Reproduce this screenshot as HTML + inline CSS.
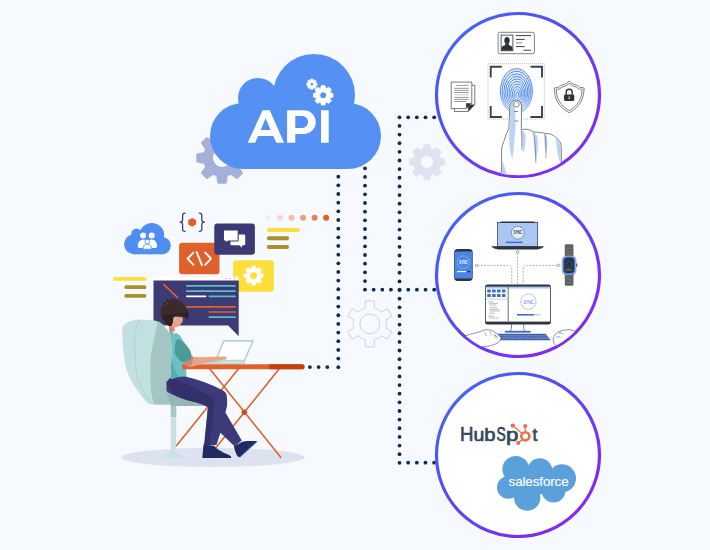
<!DOCTYPE html>
<html><head><meta charset="utf-8"><style>
html,body{margin:0;padding:0;background:#F6FAFE;}
svg{display:block;}
</style></head><body>
<svg width="710" height="550" viewBox="0 0 710 550" font-family="Liberation Sans, sans-serif">
<rect width="710" height="550" fill="#F6FAFE"/>
<g fill="#0E2B50"><circle cx="338.30" cy="176.70" r="1.9"/><circle cx="338.30" cy="185.36" r="1.9"/><circle cx="338.30" cy="194.02" r="1.9"/><circle cx="338.30" cy="202.68" r="1.9"/><circle cx="338.30" cy="211.34" r="1.9"/><circle cx="338.30" cy="220.00" r="1.9"/><circle cx="338.30" cy="228.65" r="1.9"/><circle cx="338.30" cy="237.31" r="1.9"/><circle cx="338.30" cy="245.97" r="1.9"/><circle cx="338.30" cy="254.63" r="1.9"/><circle cx="338.30" cy="263.29" r="1.9"/><circle cx="338.30" cy="271.95" r="1.9"/><circle cx="338.30" cy="280.61" r="1.9"/><circle cx="338.30" cy="289.27" r="1.9"/><circle cx="338.30" cy="297.93" r="1.9"/><circle cx="338.30" cy="306.59" r="1.9"/><circle cx="338.30" cy="315.25" r="1.9"/><circle cx="338.30" cy="323.90" r="1.9"/><circle cx="338.30" cy="332.56" r="1.9"/><circle cx="338.30" cy="341.22" r="1.9"/><circle cx="338.30" cy="349.88" r="1.9"/><circle cx="338.30" cy="358.54" r="1.9"/><circle cx="338.30" cy="367.20" r="1.9"/><circle cx="309.90" cy="367.10" r="1.9"/><circle cx="318.60" cy="367.10" r="1.9"/><circle cx="327.30" cy="367.10" r="1.9"/><circle cx="365.00" cy="168.30" r="1.9"/><circle cx="365.00" cy="176.97" r="1.9"/><circle cx="365.00" cy="185.64" r="1.9"/><circle cx="365.00" cy="194.31" r="1.9"/><circle cx="365.00" cy="202.99" r="1.9"/><circle cx="365.00" cy="211.66" r="1.9"/><circle cx="365.00" cy="220.33" r="1.9"/><circle cx="365.00" cy="229.00" r="1.9"/><circle cx="365.00" cy="237.67" r="1.9"/><circle cx="365.00" cy="246.34" r="1.9"/><circle cx="365.00" cy="255.01" r="1.9"/><circle cx="365.00" cy="263.69" r="1.9"/><circle cx="365.00" cy="272.36" r="1.9"/><circle cx="365.00" cy="281.03" r="1.9"/><circle cx="365.00" cy="289.70" r="1.9"/><circle cx="373.65" cy="289.70" r="1.9"/><circle cx="382.30" cy="289.70" r="1.9"/><circle cx="390.95" cy="289.70" r="1.9"/><circle cx="399.60" cy="289.70" r="1.9"/><circle cx="408.25" cy="289.70" r="1.9"/><circle cx="416.90" cy="289.70" r="1.9"/><circle cx="425.55" cy="289.70" r="1.9"/><circle cx="434.20" cy="289.70" r="1.9"/><circle cx="399.50" cy="117.30" r="1.9"/><circle cx="399.50" cy="125.94" r="1.9"/><circle cx="399.50" cy="134.57" r="1.9"/><circle cx="399.50" cy="143.21" r="1.9"/><circle cx="399.50" cy="151.85" r="1.9"/><circle cx="399.50" cy="160.49" r="1.9"/><circle cx="399.50" cy="169.12" r="1.9"/><circle cx="399.50" cy="177.76" r="1.9"/><circle cx="399.50" cy="186.40" r="1.9"/><circle cx="399.50" cy="195.04" r="1.9"/><circle cx="399.50" cy="203.68" r="1.9"/><circle cx="399.50" cy="212.31" r="1.9"/><circle cx="399.50" cy="220.95" r="1.9"/><circle cx="399.50" cy="229.59" r="1.9"/><circle cx="399.50" cy="238.22" r="1.9"/><circle cx="399.50" cy="246.86" r="1.9"/><circle cx="399.50" cy="255.50" r="1.9"/><circle cx="399.50" cy="264.14" r="1.9"/><circle cx="399.50" cy="272.77" r="1.9"/><circle cx="399.50" cy="281.41" r="1.9"/><circle cx="399.50" cy="290.05" r="1.9"/><circle cx="399.50" cy="298.69" r="1.9"/><circle cx="399.50" cy="307.32" r="1.9"/><circle cx="399.50" cy="315.96" r="1.9"/><circle cx="399.50" cy="324.60" r="1.9"/><circle cx="399.50" cy="333.24" r="1.9"/><circle cx="399.50" cy="341.88" r="1.9"/><circle cx="399.50" cy="350.51" r="1.9"/><circle cx="399.50" cy="359.15" r="1.9"/><circle cx="399.50" cy="367.79" r="1.9"/><circle cx="399.50" cy="376.43" r="1.9"/><circle cx="399.50" cy="385.06" r="1.9"/><circle cx="399.50" cy="393.70" r="1.9"/><circle cx="399.50" cy="402.34" r="1.9"/><circle cx="399.50" cy="410.98" r="1.9"/><circle cx="399.50" cy="419.61" r="1.9"/><circle cx="399.50" cy="428.25" r="1.9"/><circle cx="399.50" cy="436.89" r="1.9"/><circle cx="399.50" cy="445.53" r="1.9"/><circle cx="399.50" cy="454.16" r="1.9"/><circle cx="399.50" cy="462.80" r="1.9"/><circle cx="408.17" cy="117.30" r="1.9"/><circle cx="416.84" cy="117.30" r="1.9"/><circle cx="425.51" cy="117.30" r="1.9"/><circle cx="434.18" cy="117.30" r="1.9"/><circle cx="408.15" cy="462.70" r="1.9"/><circle cx="416.80" cy="462.70" r="1.9"/><circle cx="425.45" cy="462.70" r="1.9"/><circle cx="434.10" cy="462.70" r="1.9"/></g>
<path fill="#A5B0D8" fill-rule="evenodd" stroke="#A5B0D8" stroke-width="2" stroke-linejoin="round" d="M239.31,153.06 L246.74,154.41 L246.74,161.59 L239.31,162.94 L239.11,163.60 L238.88,164.25 L238.63,164.89 L238.35,165.52 L238.05,166.14 L237.73,166.75 L242.03,172.96 L236.96,178.03 L230.75,173.73 L230.14,174.05 L229.52,174.35 L228.89,174.63 L228.25,174.88 L227.60,175.11 L226.94,175.31 L225.59,182.74 L218.41,182.74 L217.06,175.31 L216.40,175.11 L215.75,174.88 L215.11,174.63 L214.48,174.35 L213.86,174.05 L213.25,173.73 L207.04,178.03 L201.97,172.96 L206.27,166.75 L205.95,166.14 L205.65,165.52 L205.37,164.89 L205.12,164.25 L204.89,163.60 L204.69,162.94 L197.26,161.59 L197.26,154.41 L204.69,153.06 L204.89,152.40 L205.12,151.75 L205.37,151.11 L205.65,150.48 L205.95,149.86 L206.27,149.25 L201.97,143.04 L207.04,137.97 L213.25,142.27 L213.86,141.95 L214.48,141.65 L215.11,141.37 L215.75,141.12 L216.40,140.89 L217.06,140.69 L218.41,133.26 L225.59,133.26 L226.94,140.69 L227.60,140.89 L228.25,141.12 L228.89,141.37 L229.52,141.65 L230.14,141.95 L230.75,142.27 L236.96,137.97 L242.03,143.04 L237.73,149.25 L238.05,149.86 L238.35,150.48 L238.63,151.11 L238.88,151.75 L239.11,152.40Z M212.00,158.00 a10.00,10.00 0 1,0 20.00,0 a10.00,10.00 0 1,0 -20.00,0Z"/>
<path fill="#DFE3F1" fill-rule="evenodd" stroke="#DFE3F1" stroke-width="1.6" stroke-linejoin="round" d="M439.76,158.64 L443.97,159.21 L443.97,164.79 L439.76,165.36 L439.60,165.93 L439.41,166.50 L439.20,167.05 L438.96,167.60 L438.69,168.13 L438.40,168.65 L440.97,172.03 L437.03,175.97 L433.65,173.40 L433.13,173.69 L432.60,173.96 L432.05,174.20 L431.50,174.41 L430.93,174.60 L430.36,174.76 L429.79,178.97 L424.21,178.97 L423.64,174.76 L423.07,174.60 L422.50,174.41 L421.95,174.20 L421.40,173.96 L420.87,173.69 L420.35,173.40 L416.97,175.97 L413.03,172.03 L415.60,168.65 L415.31,168.13 L415.04,167.60 L414.80,167.05 L414.59,166.50 L414.40,165.93 L414.24,165.36 L410.03,164.79 L410.03,159.21 L414.24,158.64 L414.40,158.07 L414.59,157.50 L414.80,156.95 L415.04,156.40 L415.31,155.87 L415.60,155.35 L413.03,151.97 L416.97,148.03 L420.35,150.60 L420.87,150.31 L421.40,150.04 L421.95,149.80 L422.50,149.59 L423.07,149.40 L423.64,149.24 L424.21,145.03 L429.79,145.03 L430.36,149.24 L430.93,149.40 L431.50,149.59 L432.05,149.80 L432.60,150.04 L433.13,150.31 L433.65,150.60 L437.03,148.03 L440.97,151.97 L438.40,155.35 L438.69,155.87 L438.96,156.40 L439.20,156.95 L439.41,157.50 L439.60,158.07Z M420.10,162.00 a6.90,6.90 0 1,0 13.80,0 a6.90,6.90 0 1,0 -13.80,0Z"/>
<path fill="none" stroke="#CDD2DE" stroke-width="1" stroke-linejoin="round" d="M365.26,307.93 L365.43,300.91 L374.17,300.91 L374.34,307.93 L375.64,308.36 L376.89,308.89 L378.10,309.52 L379.25,310.25 L380.34,311.08 L381.36,311.98 L387.52,308.62 L391.89,316.19 L385.90,319.85 L386.18,321.18 L386.34,322.54 L386.40,323.90 L386.34,325.26 L386.18,326.62 L385.90,327.95 L391.89,331.61 L387.52,339.18 L381.36,335.82 L380.34,336.72 L379.25,337.55 L378.10,338.28 L376.89,338.91 L375.64,339.44 L374.34,339.87 L374.17,346.89 L365.43,346.89 L365.26,339.87 L363.96,339.44 L362.71,338.91 L361.50,338.28 L360.35,337.55 L359.26,336.72 L358.24,335.82 L352.08,339.18 L347.71,331.61 L353.70,327.95 L353.42,326.62 L353.26,325.26 L353.20,323.90 L353.26,322.54 L353.42,321.18 L353.70,319.85 L347.71,316.19 L352.08,308.62 L358.24,311.98 L359.26,311.08 L360.35,310.25 L361.50,309.52 L362.71,308.89 L363.96,308.36Z M359.90,323.90 a9.90,9.90 0 1,0 19.80,0 a9.90,9.90 0 1,0 -19.80,0Z"/>
<g fill="#5591F2"><circle cx="243" cy="136" r="33"/><circle cx="258" cy="98" r="20"/><circle cx="314" cy="95" r="41"/><circle cx="348" cy="136" r="33"/><rect x="243" y="100" width="105" height="69"/></g>
<path fill="#fff" fill-rule="evenodd" d="M247.7,142.8 L262.6,110.3 H269.8 L284,142.8 H276.3 L273.3,135.9 H258 L255.3,142.8Z M260.7,130.1 H270.6 L265.6,118.2Z M287.1,142.8 V110.3 H303.8 A11.9,11.85 0 0 1 303.8,134 H295.3 V142.8Z M295.3,116.1 H302.3 A5.8,5.9 0 0 1 302.3,127.9 H295.3Z M321,110.3 H328.7 V142.8 H321Z"/>
<path fill="#fff" fill-rule="evenodd" stroke="#fff" stroke-width="0.8" stroke-linejoin="round" d="M315.59,82.92 L317.00,83.21 L317.00,85.19 L315.59,85.48 L315.56,85.55 L315.53,85.62 L315.50,85.69 L315.47,85.76 L315.44,85.83 L315.41,85.90 L316.21,87.11 L314.81,88.51 L313.60,87.71 L313.53,87.74 L313.46,87.77 L313.39,87.80 L313.32,87.83 L313.25,87.86 L313.18,87.89 L312.89,89.30 L310.91,89.30 L310.62,87.89 L310.55,87.86 L310.48,87.83 L310.41,87.80 L310.34,87.77 L310.27,87.74 L310.20,87.71 L308.99,88.51 L307.59,87.11 L308.39,85.90 L308.36,85.83 L308.33,85.76 L308.30,85.69 L308.27,85.62 L308.24,85.55 L308.21,85.48 L306.80,85.19 L306.80,83.21 L308.21,82.92 L308.24,82.85 L308.27,82.78 L308.30,82.71 L308.33,82.64 L308.36,82.57 L308.39,82.50 L307.59,81.29 L308.99,79.89 L310.20,80.69 L310.27,80.66 L310.34,80.63 L310.41,80.60 L310.48,80.57 L310.55,80.54 L310.62,80.51 L310.91,79.10 L312.89,79.10 L313.18,80.51 L313.25,80.54 L313.32,80.57 L313.39,80.60 L313.46,80.63 L313.53,80.66 L313.60,80.69 L314.81,79.89 L316.21,81.29 L315.41,82.50 L315.44,82.57 L315.47,82.64 L315.50,82.71 L315.53,82.78 L315.56,82.85Z M310.20,84.20 a1.70,1.70 0 1,0 3.40,0 a1.70,1.70 0 1,0 -3.40,0Z"/>
<path fill="#fff" fill-rule="evenodd" stroke="#fff" stroke-width="1" stroke-linejoin="round" d="M330.32,92.94 L332.84,93.51 L332.84,97.09 L330.32,97.66 L330.26,97.83 L330.20,98.00 L330.13,98.17 L330.06,98.34 L329.98,98.50 L329.90,98.67 L331.28,100.85 L328.75,103.38 L326.57,102.00 L326.40,102.08 L326.24,102.16 L326.07,102.23 L325.90,102.30 L325.73,102.36 L325.56,102.42 L324.99,104.94 L321.41,104.94 L320.84,102.42 L320.67,102.36 L320.50,102.30 L320.33,102.23 L320.16,102.16 L320.00,102.08 L319.83,102.00 L317.65,103.38 L315.12,100.85 L316.50,98.67 L316.42,98.50 L316.34,98.34 L316.27,98.17 L316.20,98.00 L316.14,97.83 L316.08,97.66 L313.56,97.09 L313.56,93.51 L316.08,92.94 L316.14,92.77 L316.20,92.60 L316.27,92.43 L316.34,92.26 L316.42,92.10 L316.50,91.93 L315.12,89.75 L317.65,87.22 L319.83,88.60 L320.00,88.52 L320.16,88.44 L320.33,88.37 L320.50,88.30 L320.67,88.24 L320.84,88.18 L321.41,85.66 L324.99,85.66 L325.56,88.18 L325.73,88.24 L325.90,88.30 L326.07,88.37 L326.24,88.44 L326.40,88.52 L326.57,88.60 L328.75,87.22 L331.28,89.75 L329.90,91.93 L329.98,92.10 L330.06,92.26 L330.13,92.43 L330.20,92.60 L330.26,92.77Z M319.70,95.30 a3.50,3.50 0 1,0 7.00,0 a3.50,3.50 0 1,0 -7.00,0Z"/>
<defs><linearGradient id="cg" x1="0" y1="0" x2="1" y2="1">
<stop offset="0" stop-color="#4272F8"/><stop offset="0.25" stop-color="#4A58F3"/><stop offset="0.5" stop-color="#5F44F4"/><stop offset="0.72" stop-color="#7A2FF3"/><stop offset="1" stop-color="#8428EE"/></linearGradient>
<linearGradient id="fpg" x1="0" y1="0" x2="0" y2="1"><stop offset="0" stop-color="#4A84EA"/><stop offset="0.6" stop-color="#5A90EC"/><stop offset="1" stop-color="#A8C4F2"/></linearGradient>
<clipPath id="c1clip"><circle cx="518" cy="95" r="80.2"/></clipPath><clipPath id="c2clip"><circle cx="518" cy="275" r="80.2"/></clipPath></defs>
<circle cx="518" cy="95" r="81.5" fill="#fff" stroke="url(#cg)" stroke-width="3.2"/>
<circle cx="518" cy="275" r="81.5" fill="#fff" stroke="url(#cg)" stroke-width="3.2"/>
<circle cx="518" cy="455" r="81.5" fill="#fff" stroke="url(#cg)" stroke-width="3.2"/>
<rect x="498.1" y="32.3" width="36.3" height="21.4" rx="1.6" fill="#fff" stroke="#6E7378" stroke-width="0.9"/>
<rect x="501.1" y="35.1" width="11.8" height="15.7" fill="#fff" stroke="#2C3239" stroke-width="0.8"/>
<ellipse cx="507.0" cy="40.4" rx="2.7" ry="3.5" fill="#2C3239"/>
<path d="M501.5,50.6 V47.8 Q502,45.6 505,45.2 L505.6,43.5 H508.6 L509.1,45.2 Q512,45.6 512.5,47.8 V50.6Z" fill="#2C3239"/>
<g stroke="#3A3F45" stroke-width="1"><path d="M515.9,35.6H531M515.9,39.4H524.7M515.9,46.6H524.7M523.5,50.2H531"/><path d="M515.9,42.9H522.2" stroke="#8A8E93"/></g>
<rect x="488" y="63.7" width="56.3" height="55.3" fill="none" stroke="#9A9EA3" stroke-width="0.7" stroke-dasharray="1,1"/>
<path d="M490.7,77.5V66.7H501.8M530.5,66.7H542V77.5M490.7,106V117H501.8M530.5,117H542V106" fill="none" stroke="#3E4146" stroke-width="1.9"/>
<g fill="none" stroke="url(#fpg)" stroke-width="1.0"><ellipse cx="516.40" cy="91.00" rx="16.00" ry="22.30"/><ellipse cx="516.50" cy="91.45" rx="14.38" ry="20.20"/><ellipse cx="516.60" cy="91.90" rx="12.76" ry="18.10"/><ellipse cx="516.70" cy="92.35" rx="11.14" ry="16.00"/><ellipse cx="516.80" cy="92.80" rx="9.52" ry="13.90"/><ellipse cx="516.90" cy="93.25" rx="7.90" ry="11.80"/><ellipse cx="517.00" cy="93.70" rx="6.28" ry="9.70"/><ellipse cx="517.10" cy="94.15" rx="4.66" ry="7.60"/><ellipse cx="517.20" cy="94.60" rx="3.04" ry="5.50"/><ellipse cx="517.30" cy="95.05" rx="1.42" ry="3.40"/></g>
<ellipse cx="516.4" cy="91" rx="16" ry="22.3" fill="#5A90EC" opacity="0.15"/>
<g clip-path="url(#c1clip)">
<path d="M508.9,128.5 L509.8,106.6 Q510.5,100.3 516.6,100.1 Q521.3,100.5 521.5,106.6 L521.3,129.9 Q524,129 526.4,129.2 Q530.5,129.6 533.6,132.1 Q536.5,131.8 539.5,132.5 Q542.5,132.6 545.3,133.5 Q548.5,133.5 551.1,134.3 Q553.8,135.3 555.5,137.2 Q558.3,139 559.8,141.5 Q561.2,144 561.3,147.4 L561.3,163.4 L559,185 L500,185 L501.6,167.7 L501.6,148.8 Q502.4,144.5 503.8,141.5 Q506,133.5 508.9,128.5Z" fill="#fff" stroke="#3A3F45" stroke-width="0.65" stroke-linejoin="round"/>
<g fill="#BCD3F6"><path d="M510.2,107 Q511,101.5 514.5,101 Q515.2,112 515.5,122 Q515.8,130 514.5,138 Q514,150 512.5,159 Q509.5,152 509.2,140 Q509,132 509.6,126Z"/><path d="M521.4,130.5 Q524.8,131 525.6,136 Q525.8,146 523.5,153.2 Q521.5,147 521.4,130.5Z"/><path d="M533.8,133 Q537.8,134 538,142 Q537.8,154 535.5,161.9 Q534,150 533.8,133Z"/><path d="M544,134 Q547.3,135 547.5,141 Q547.3,149 545.5,154.6 Q544.3,146 544,134Z"/><path d="M555.6,138.6 Q560.5,141.5 561,150 L561,163.4 Q558.5,160 557.5,153 Q556.5,145 555.6,138.6Z"/><path d="M502,160 Q504.5,166 506,172 Q508,178 511,183 L502,183Z"/></g>
<path d="M533.6,132.3 Q535.8,148 536,163 M545.3,133.7 Q546.5,146 546,158 M521.4,130 Q522,142 521.8,150" fill="none" stroke="#3A3F45" stroke-width="0.45"/>
</g>
<path d="M513.5,104.5 Q513.8,101.4 516.6,101.5 Q519.4,101.7 519.3,104.6 Q519.2,107 516.5,107 Q513.6,107 513.5,104.5Z" fill="#fff" stroke="#3A3F45" stroke-width="0.6"/>
<path d="M514,111.5H518M514.5,121H518.5" stroke="#3A3F45" stroke-width="0.6"/>
<path d="M454.3,85.2H474.8V104.6L468.2,111.5H454.3Z" fill="#fff" stroke="#55595E" stroke-width="0.8"/>
<path d="M468.2,111.5V104.6H474.8Z" fill="#2C3239"/>
<path d="M451.2,82.1H471.8V103L466.1,108.6H451.2Z" fill="#fff" stroke="#55595E" stroke-width="0.8"/>
<path d="M466.1,108.6V103.3H471.6Z" fill="#2C3239"/>
<g stroke="#6E7378" stroke-width="0.75"><path d="M456.3,85.4H468.6M454.3,88.3H468.6M454.3,90.4H468.6M454.3,92.5H468.6M454.3,97.4H468.6M454.3,99.4H468.6M454.3,101.5H466"/><path d="M454.3,94.8H468.6" stroke="#B5B8BC"/></g>
<path d="M569.2,81.2 Q565.5,85 561,85.3 L558.5,87.3 L554.2,88 Q554.5,92 555.2,96 Q557.5,106.5 569.2,112.8 Q580.9,106.5 583.2,96 Q583.9,92 584.2,88 L579.9,87.3 L577.4,85.3 Q572.9,85 569.2,81.2Z" fill="#fff" stroke="#3A3F45" stroke-width="0.65" stroke-linejoin="round"/>
<path d="M569.2,83.4 Q566,86.6 562.2,87 L559.8,88.8 L556.2,89.5 Q556.5,93 557.2,96.2 Q559.5,105 569.2,110.6 Q578.9,105 581.2,96.2 Q581.9,93 582.2,89.5 L578.6,88.8 L576.2,87 Q572.4,86.6 569.2,83.4Z" fill="none" stroke="#3A3F45" stroke-width="0.65" stroke-linejoin="round"/>
<path d="M566.2,94.8V92.2A3,3 0 0 1 572.2,92.2V94.8" fill="none" stroke="#2C3239" stroke-width="1.4"/>
<rect x="564" y="94.6" width="10.3" height="6.3" rx="1.3" fill="#2C3239"/>
<path d="M569.2,96.4V99.3" stroke="#fff" stroke-width="0.9"/>
<g clip-path="url(#c2clip)">
<g fill="none" stroke="#6E7378" stroke-width="0.6" stroke-dasharray="1.8,1.4"><path d="M517.5,253.3V284.4"/><path d="M477.8,265.4H509.3Q511.8,265.4 511.8,269.5V284"/><path d="M557.3,265.4H525.7Q523.2,265.4 523.2,269.5V284"/></g>
<g fill="#fff" stroke="#6E7378" stroke-width="0.6"><circle cx="517.6" cy="251.9" r="1.3"/><circle cx="476.5" cy="265.4" r="1.3"/><circle cx="558.7" cy="265.4" r="1.3"/></g>
<rect x="497.4" y="222.6" width="40.3" height="24" fill="#A8C7F4" stroke="#2D3540" stroke-width="0.7"/>
<path d="M499.8,223 Q500.2,221.6 502,221.6 H533.2 Q535,221.6 535.3,223Z" fill="#2D3540"/>
<path d="M491.3,246.3H544.1Q542,249.2 537,249.4H498.5Q493.5,249.2 491.3,246.3Z" fill="#2D3540"/>
<circle cx="517.7" cy="232.7" r="6.3" fill="#E4EDFB" stroke="#2D3540" stroke-width="0.5" stroke-dasharray="2.5,0.6"/>
<text x="517.7" y="234.4" text-anchor="middle" font-size="4.6" font-weight="bold" fill="#2D3540" transform="translate(517.7 0) scale(0.66 1) translate(-517.7 0)">SYNC</text>
<rect x="505.9" y="241.6" width="23.2" height="1.5" fill="#C9CED6"/><rect x="505.9" y="241.6" width="16.8" height="1.5" fill="#3B6FC9"/>
<rect x="454.1" y="249.1" width="18.6" height="31.8" rx="3.6" fill="#2D3540"/>
<rect x="454.6" y="251.4" width="17.6" height="27.1" rx="1" fill="#4A86E8"/>
<circle cx="463.5" cy="262.2" r="6.2" fill="none" stroke="#fff" stroke-width="0.5" stroke-dasharray="1.2,0.8"/>
<text x="463.5" y="263.9" text-anchor="middle" font-size="4.6" font-weight="bold" fill="#fff" transform="translate(463.5 0) scale(0.66 1) translate(-463.5 0)">SYNC</text>
<rect x="456.8" y="271" width="13.4" height="1.3" fill="#2D3540"/><rect x="456.8" y="271" width="9.7" height="1.3" fill="#fff"/>
<rect x="565" y="244.5" width="8.2" height="41" rx="1" fill="#5E6166" stroke="#44474C" stroke-width="0.4"/>
<path d="M565.3,248.2H572.9M565.3,251.6H572.9M565.3,254.8H572.9M565.3,276H572.9M565.3,279.3H572.9M565.3,282.6H572.9" stroke="#7C7F84" stroke-width="0.5"/>
<rect x="575.5" y="263.6" width="1.8" height="2.8" rx="0.5" fill="#5E6166"/>
<rect x="562.3" y="255.5" width="13.6" height="19.6" rx="4.6" fill="#fff" stroke="#2D3540" stroke-width="0.5"/>
<rect x="562.9" y="256.2" width="12.4" height="18.2" rx="4.2" fill="#3A7BE0"/>
<rect x="564.1" y="257.6" width="10" height="15.4" rx="3.4" fill="#283445"/>
<circle cx="569.1" cy="264.4" r="3" fill="none" stroke="#3A7BE0" stroke-width="0.5" stroke-dasharray="1,0.6"/>
<rect x="565.5" y="269.4" width="6" height="0.9" fill="#8892A0"/>
<rect x="485" y="284.4" width="66" height="40" rx="2.6" fill="#2D3540"/>
<rect x="485.8" y="286.8" width="64.4" height="34.8" fill="#fff"/>
<rect x="485.8" y="286.8" width="64.4" height="1.7" fill="#A8C7F4"/>
<g fill="#3B6FC9"><rect x="487.2" y="289.4" width="3.6" height="3.0" rx="0.3"/><rect x="492.1" y="289.4" width="3.6" height="3.0" rx="0.3"/><rect x="497.0" y="289.4" width="3.6" height="3.0" rx="0.3"/><rect x="501.9" y="289.4" width="3.6" height="3.0" rx="0.3"/><rect x="487.2" y="293.9" width="3.6" height="3.0" rx="0.3"/><rect x="492.1" y="293.9" width="3.6" height="3.0" rx="0.3"/><rect x="497.0" y="293.9" width="3.6" height="3.0" rx="0.3"/><rect x="501.9" y="293.9" width="3.6" height="3.0" rx="0.3"/></g>
<path d="M486,299.2H507.8" stroke="#A0A4AA" stroke-width="0.5"/>
<g stroke="#8E9298" stroke-width="0.6"><path d="M488,301.8H493M489,303.4H498M489,305H496M490,307.6H497M489,309.4H499M490,311H500M489,313.2H495M488,316.2H494M489,318H499"/></g>
<path d="M508.2,287V321.6" stroke="#5A5E64" stroke-width="0.9"/>
<circle cx="528.4" cy="301.6" r="7.6" fill="none" stroke="#5A5E64" stroke-width="0.45" stroke-dasharray="3,0.6"/>
<text x="528.4" y="303.6" text-anchor="middle" font-size="5.6" fill="#3B6FC9" transform="translate(528.4 0) scale(0.68 1) translate(-528.4 0)">SYNC</text>
<rect x="517" y="314" width="23.6" height="1.5" fill="#C9CED6"/><rect x="517" y="314" width="16.8" height="1.5" fill="#3B6FC9"/>
<path d="M511.5,324.3 Q512,329.5 510.4,331 M523.7,324.3 Q523.2,329.5 524.8,331" fill="none" stroke="#2D3540" stroke-width="0.6"/>
<rect x="505.1" y="330.9" width="25.3" height="1.7" rx="0.4" fill="#4A72C0" stroke="#2D4A8A" stroke-width="0.3"/>
<path d="M495.2,334H545.6L550.2,340.1H499.9Z" fill="#3F63AF" stroke="#2D4A8A" stroke-width="0.4"/>
<g stroke="#9DB3DE" stroke-width="0.7" stroke-dasharray="1.1,0.7"><path d="M497,335.6H546.5M498.2,337.2H547.8M499.4,338.7H549"/></g>
<path d="M462,337 Q470,334 480.5,331.6 Q484.5,329.2 488.2,329.6 Q492.5,330 494.4,332.2 Q498,333.5 499,335.6 Q501.5,337.2 500.8,339.6 Q499,342.5 495.5,344 Q491,345.8 487.5,346.3 L468,348Z" fill="#fff" stroke="#3A3F45" stroke-width="0.55" stroke-linejoin="round"/>
<path d="M484,331.5 Q486.5,333.5 486,336 M489.5,331 Q491.5,333 491,335.5 M494,336.5 Q496.5,337 497.5,339" fill="none" stroke="#3A3F45" stroke-width="0.4"/>
<path d="M493.5,335 Q496,334.8 497.3,337" fill="none" stroke="#5A8FE0" stroke-width="1"/>
<path d="M575,331 Q569,328.5 563,330.3 Q558,331.5 555.5,334 Q552.8,337 553,340 Q553.5,343.5 556,345.5 L560,348 L578,348Z" fill="#fff" stroke="#3A3F45" stroke-width="0.55" stroke-linejoin="round"/>
<path d="M556,337.5 Q558.5,335.5 560.5,337.5 M559,333 Q562,332 563.5,334.5" fill="none" stroke="#5A8FE0" stroke-width="0.8"/>
</g>
<text transform="translate(459.96 441.45) scale(0.922 1)" font-size="20.14" fill="#33475B" stroke="#33475B" stroke-width="0.70">H</text>
<text transform="translate(473.38 441.26) scale(1.044 1)" font-size="18.70" fill="#33475B" stroke="#33475B" stroke-width="0.70">u</text>
<text transform="translate(484.13 441.45) scale(1.062 1)" font-size="19.04" fill="#33475B" stroke="#33475B" stroke-width="0.70">b</text>
<text transform="translate(496.56 441.06) scale(0.713 1)" font-size="19.44" fill="#33475B" stroke="#33475B" stroke-width="0.70">S</text>
<text transform="translate(506.09 441.07) scale(1.237 1)" font-size="18.00" fill="#33475B" stroke="#33475B" stroke-width="0.70">p</text>
<text transform="translate(532.50 441.26) scale(0.930 1)" font-size="18.92" fill="#33475B" stroke="#33475B" stroke-width="0.70">t</text>
<g fill="#E8714B" stroke="#E8714B"><circle cx="525.3" cy="436.3" r="4.05" fill="none" stroke-width="2.6"/><path d="M525.3,431V426M512.8,425.6L522,433.5M522.6,439.5L518.2,442.9" stroke-width="1.35"/><circle cx="525.3" cy="426.1" r="2.05" stroke="none"/><circle cx="512.8" cy="425.6" r="2.15" stroke="none"/><circle cx="518.2" cy="442.9" r="2.05" stroke="none"/></g>
<g fill="#5AA0DB"><circle cx="515.8" cy="469.3" r="13.4"/><circle cx="539.8" cy="470.8" r="12.6"/><circle cx="562" cy="478.3" r="14"/><circle cx="553.5" cy="490.6" r="12"/><circle cx="527.2" cy="497.6" r="13.2"/><circle cx="508.3" cy="487.5" r="11.3"/><rect x="508" y="470" width="54" height="24"/></g>
<text x="508.6" y="485.6" font-size="13.4" fill="#fff" stroke="#fff" stroke-width="0.15" textLength="60" lengthAdjust="spacing">salesforce</text>
<ellipse cx="213" cy="457.4" rx="91.7" ry="9.6" fill="#DDE2F1"/>
<g fill="#4F8EF0"><circle cx="134" cy="244.3" r="10"/><circle cx="136.5" cy="233.8" r="5.2"/><circle cx="151.8" cy="235.3" r="12.4"/><circle cx="162.2" cy="245.6" r="8.6"/><rect x="132.5" y="238" width="30" height="16.3"/></g>
<g fill="#fff"><circle cx="143.1" cy="235.6" r="3"/><circle cx="151.7" cy="235.6" r="3"/><path d="M137.8,246.5 Q137.8,239.8 143.1,239.5 Q148.4,239.8 148.4,246.5 Q148.4,247.9 147,247.9 H139.2 Q137.8,247.9 137.8,246.5Z"/><path d="M146.4,246.5 Q146.4,239.8 151.7,239.5 Q157,239.8 157,246.5 Q157,247.9 155.6,247.9 H147.8 Q146.4,247.9 146.4,246.5Z"/><circle cx="147.3" cy="241.6" r="2.3" stroke="#4F8EF0" stroke-width="0.8"/><path d="M142.9,249.2 Q142.9,244.4 147.3,244.1 Q151.7,244.4 151.7,249.2Z" stroke="#4F8EF0" stroke-width="0.8"/></g>
<path d="M185,213.2 Q182.6,213.3 182.6,215.5 V219.8 Q182.6,221.8 180.2,222.2 Q182.6,222.6 182.6,224.6 V229.2 Q182.6,231.3 185,231.4 M199.4,213.2 Q201.8,213.3 201.8,215.5 V219.8 Q201.8,221.8 204.3,222.2 Q201.8,222.6 201.8,224.6 V229.2 Q201.8,231.3 199.4,231.4" fill="none" stroke="#3B3A74" stroke-width="1.25" stroke-linecap="round" stroke-linejoin="round"/>
<path d="M192.2,217.9 L196.1,220.1 V224.6 L192.2,226.8 L188.2,224.6 V220.1Z" fill="#E0602C"/>
<rect x="179.1" y="242.7" width="40.4" height="31.5" rx="3" fill="#E0602C"/>
<path d="M193.4,252.6 L187.6,258.7 L193.4,264.8 M205.2,252.6 L211,258.7 L205.2,264.8 M196.7,252.2 L201.9,265.2" fill="none" stroke="#fff" stroke-width="1.9" stroke-linecap="round" stroke-linejoin="round"/>
<rect x="214.3" y="223.4" width="40.6" height="31.3" rx="3" fill="#3B3A74"/>
<path d="M230.5,234.4 H244.4 Q245.2,234.4 245.2,235.2 V244.4 Q245.2,245.2 244.4,245.2 H242.2 L241.9,247.7 L239.4,245.2 H231.3 Q230.5,245.2 230.5,244.4Z" fill="#fff"/>
<path d="M223.4,230.8 Q223.4,230 224.2,230 H237.4 Q238.2,230 238.2,230.8 V240.2 Q238.2,241 237.4,241 H228.3 L225.6,243.6 L225.7,241 H224.2 Q223.4,241 223.4,240.2Z" fill="#fff" stroke="#3B3A74" stroke-width="1.1" stroke-linejoin="round"/>
<rect x="233.1" y="260.3" width="40.9" height="31.5" rx="3" fill="#FDDF3B"/>
<path fill="#fff" fill-rule="evenodd" stroke="#fff" stroke-width="0.8" stroke-linejoin="round" d="M260.54,273.34 L263.05,273.91 L263.05,277.29 L260.54,277.86 L260.48,278.04 L260.41,278.22 L260.34,278.39 L260.27,278.57 L260.19,278.74 L260.11,278.91 L261.48,281.09 L259.09,283.48 L256.91,282.11 L256.74,282.19 L256.57,282.27 L256.39,282.34 L256.22,282.41 L256.04,282.48 L255.86,282.54 L255.29,285.05 L251.91,285.05 L251.34,282.54 L251.16,282.48 L250.98,282.41 L250.81,282.34 L250.63,282.27 L250.46,282.19 L250.29,282.11 L248.11,283.48 L245.72,281.09 L247.09,278.91 L247.01,278.74 L246.93,278.57 L246.86,278.39 L246.79,278.22 L246.72,278.04 L246.66,277.86 L244.15,277.29 L244.15,273.91 L246.66,273.34 L246.72,273.16 L246.79,272.98 L246.86,272.81 L246.93,272.63 L247.01,272.46 L247.09,272.29 L245.72,270.11 L248.11,267.72 L250.29,269.09 L250.46,269.01 L250.63,268.93 L250.81,268.86 L250.98,268.79 L251.16,268.72 L251.34,268.66 L251.91,266.15 L255.29,266.15 L255.86,268.66 L256.04,268.72 L256.22,268.79 L256.39,268.86 L256.57,268.93 L256.74,269.01 L256.91,269.09 L259.09,267.72 L261.48,270.11 L260.11,272.29 L260.19,272.46 L260.27,272.63 L260.34,272.81 L260.41,272.98 L260.48,273.16Z M249.70,275.60 a3.90,3.90 0 1,0 7.80,0 a3.90,3.90 0 1,0 -7.80,0Z"/>
<circle cx="268.5" cy="217.7" r="3" fill="#F6EEEB"/>
<circle cx="280.0" cy="217.7" r="3" fill="#F3D9CF"/>
<circle cx="291.5" cy="217.7" r="3" fill="#EFBFAC"/>
<circle cx="303.1" cy="217.7" r="3" fill="#EAA184"/>
<circle cx="314.6" cy="217.7" r="3" fill="#E6825B"/>
<circle cx="326.1" cy="217.7" r="3" fill="#E0602C"/>
<g stroke-linecap="round" stroke-width="4"><path d="M268.8,230H298" stroke="#FDDF3B"/><path d="M268.8,238.2H287.1M268.8,246.9H287.1" stroke="#A8902A"/></g>
<g stroke-linecap="round" stroke-width="3.8"><path d="M114.9,278.9H144.5" stroke="#FDDF3B"/><path d="M126.2,287.2H144.5M126.2,295.9H144.5" stroke="#A8902A"/></g>
<rect x="153.1" y="276.8" width="85.6" height="4" fill="#fff"/>
<path d="M153.5,280.6 H238.7 V336.2 L228.2,325.6 H153.5Z" fill="#3C3B76"/>
<g fill="#E8714B"><circle cx="226" cy="278.6" r="0.6"/><circle cx="230.3" cy="278.6" r="0.6"/><circle cx="234.5" cy="278.6" r="0.6"/></g>
<g stroke-width="1.7" stroke-linecap="round"><path d="M163.6,284.3 L177.4,297.3" stroke="#E0602C"/><path d="M186.8,285.9H235M186.8,291.1H235M209.4,296.3H235M209.4,317.2H235" stroke="#5BBFC3"/><path d="M186.8,296.3H205.5" stroke="#fff"/><path d="M186.8,306.9H235M209.4,312H235" stroke="#E0602C"/></g>
<g stroke="#E0602C" stroke-width="1.6" stroke-linecap="round"><path d="M238.7,368.5 L176.4,445.8"/><path d="M209.5,368.5 L280.7,457.3"/><path d="M279.4,368.5 L208.2,457.3"/></g>
<rect x="242" y="410" width="4.6" height="4.6" fill="#C94B1F" transform="rotate(45 244.3 412.3)"/>
<path d="M170.8,404 H176.2 V449 H170.8Z" fill="#C8E2E2"/>
<path d="M170.8,404 H176.2 V417 H170.8Z" fill="#A7C6C5"/>
<path d="M172.8,445 Q174,455 188,457.6 H159.5 Q171.5,455 172.8,445Z" fill="#C8E2E2"/>
<path d="M163,336 Q168,331.8 172,331.8 Q176,332 179.5,335 Q186,344 191.3,354.5 L185.5,362 Q186.5,370 186.5,377 L163,379Z" fill="#6CC1C4"/>
<path d="M163,340 Q170,344 171.5,356 Q173,370 180,377.5 L163,379Z" fill="#58ACAD"/>
<path d="M123.2,325.6 Q129,319.6 140.4,319.6 Q152,319.6 159.5,322 Q168,328 170.5,336 Q172.5,350 171.3,360 Q171,375 169.5,388.3 Q185,392 206,404.6 H149.5 Q142,399 131.3,381 Q125,368 124,357.4 Q122,343 122.3,330.2 Q122.5,327 123.2,325.6Z" fill="#C2E0E1"/>
<path d="M157.7,321.5 Q166,326 170.5,336 Q172.5,350 171.3,360 Q171,375 169.5,388.3 Q185,392 206,404.6 H154 Q150,392 150.4,371.9 Q150,355 152.2,348.3 Q155,335 157.7,321.5Z" fill="#A4C5C4"/>
<path d="M139.5,320.2 Q133,334 135,344.7 Q135,362 136.8,375.5 Q142,392 152.2,403.7" fill="none" stroke="#8AA9A8" stroke-width="0.5" stroke-dasharray="1.8,1.5"/>
<path d="M166,390 Q170,394 175,396 Q180,398 190,400.5 Q200,403.5 208,406 H171 Z" fill="#94B7B5"/>
<path d="M166.5,382 Q172,377 185,376.5 Q205,381 221,389.6 Q226.5,392 226.8,396.2 Q227.5,401 227,406 L225.4,412.4 L241.8,440.6 L234.5,446.2 L220.4,432.7 L216.4,445 L204,445 L208,407 Q198,403 192.7,401.6 Q180,398 176.4,396.2 Q168,393 166.5,390.7Z" fill="#3C3A7A"/>
<path d="M166.5,382 Q168,390 176.4,396.2 Q186,400 192.7,401.6 Q203,404 208,407 L204.5,445 L210,445 L213.4,398.3 Q200,392 186,384 Q176,380 170,378Z" fill="#33316B"/>
<path d="M186,384 Q200,392 213.4,398.3 L212.3,430" fill="none" stroke="#2C2A5E" stroke-width="0.5"/><path d="M220,405 Q228,420 237,440" fill="none" stroke="#34336E" stroke-width="0.5"/>
<path d="M203.5,444.5 L214.2,445.7 L216.4,448.5 Q220,451 223.2,452.4 Q229,454.5 231.1,456.6 V458 H202.3Z" fill="#1F2B62"/>
<path d="M214.6,446.5 Q218,450.5 223,452.5" fill="none" stroke="#3A4F95" stroke-width="0.7"/>
<path d="M233.9,446.2 L242.3,441.7 Q246,441 248,441.1 H257 L239,457.5 Q236,455 235,450.7Z" fill="#1F2B62"/>
<path d="M256.8,441.6 L239.5,457" fill="none" stroke="#34489A" stroke-width="1.1"/>
<path d="M182.3,364.2 H302 A2.55,2.55 0 0 1 302,369.3 H182.3Z" fill="#E0602C"/>
<path d="M269.3,364.2 H302 A2.55,2.55 0 0 1 302,369.3 H269.3Z" fill="#C4400F"/>
<path d="M223.8,340.8 H253.1 L244.3,360.5 H215.6Z" fill="#fff" stroke="#B5D6D4" stroke-width="1.7" stroke-linejoin="round"/>
<path d="M203.6,360.4 H245.8 L244.8,363.9 H205Z" fill="#BBDADA"/>
<path d="M222,362.2 H243" stroke="#E3F0F0" stroke-width="0.8"/>
<path d="M184.10,362.60 C184.35,361.53 186.27,359.70 187.50,358.80 C188.73,357.90 189.08,357.47 191.50,357.20 C193.92,356.93 198.25,357.27 202.00,357.20 C205.75,357.13 210.65,356.93 214.00,356.80 C217.35,356.67 220.20,356.40 222.10,356.40 C224.00,356.40 224.62,356.43 225.40,356.80 C226.18,357.17 226.95,358.10 226.80,358.60 C226.65,359.10 225.63,359.53 224.50,359.80 C223.37,360.07 222.25,359.83 220.00,360.20 C217.75,360.57 214.00,361.38 211.00,362.00 C208.00,362.62 205.08,363.17 202.00,363.90 C198.92,364.63 194.58,365.93 192.50,366.40 C190.42,366.87 190.58,366.90 189.50,366.70 C188.42,366.50 186.90,365.88 186.00,365.20 C185.10,364.52 183.85,363.67 184.10,362.60Z" fill="#E8A48A"/>
<path d="M184.10,362.60 C184.40,361.57 186.65,360.17 188.00,359.00 C189.35,357.83 191.37,355.35 192.20,355.60 C193.03,355.85 193.17,359.02 193.00,360.50 C192.83,361.98 191.78,363.48 191.20,364.50 C190.62,365.52 190.33,366.48 189.50,366.60 C188.67,366.72 187.10,365.87 186.20,365.20 C185.30,364.53 183.80,363.63 184.10,362.60Z" fill="#C98B74"/>
<path d="M178.00,339.00 C179.58,339.17 183.08,342.25 185.00,344.00 C186.92,345.75 188.42,347.63 189.50,349.50 C190.58,351.37 191.33,353.62 191.50,355.20 C191.67,356.78 191.07,358.10 190.50,359.00 C189.93,359.90 189.50,360.12 188.10,360.60 C186.70,361.08 183.95,362.50 182.10,361.90 C180.25,361.30 178.23,358.68 177.00,357.00 C175.77,355.32 174.95,354.13 174.70,351.80 C174.45,349.47 174.95,345.13 175.50,343.00 C176.05,340.87 176.42,338.83 178.00,339.00Z" fill="#4E9A98"/>
<path d="M168.6,324 L174,325.5 L175,332 Q172,334 169.5,332.8Z" fill="#C98B74"/>
<path d="M172.5,331.2 L175.2,331.5 L175.5,334 L173,333.6Z" fill="#E9F2F2"/>
<path d="M173.3,317 Q178,316.2 182.6,317.6 Q183.3,319.8 182.9,320.5 Q182,323.3 180.8,324 Q179.5,326 178,326.8 Q175.5,327.8 173.9,327.5 Q171.8,326.8 171.5,326.1 Q172.5,321 173.3,317Z" fill="#E8A48A"/>
<path d="M160.80,312.30 C160.73,310.92 160.77,309.95 161.10,308.80 C161.43,307.65 161.90,306.67 162.80,305.40 C163.70,304.13 164.77,302.25 166.50,301.20 C168.23,300.15 171.17,299.20 173.20,299.10 C175.23,299.00 177.08,299.82 178.70,300.60 C180.32,301.38 181.63,302.58 182.90,303.80 C184.17,305.02 185.38,306.48 186.30,307.90 C187.22,309.32 188.02,310.87 188.40,312.30 C188.78,313.73 188.80,315.33 188.60,316.50 C188.40,317.67 187.92,319.20 187.20,319.30 C186.48,319.40 185.37,317.70 184.30,317.10 C183.23,316.50 182.18,315.98 180.80,315.70 C179.42,315.42 177.22,315.22 176.00,315.40 C174.78,315.58 174.02,315.82 173.50,316.80 C172.98,317.78 173.23,319.87 172.90,321.30 C172.57,322.73 172.25,324.72 171.50,325.40 C170.75,326.08 169.62,326.08 168.40,325.40 C167.18,324.72 165.35,322.68 164.20,321.30 C163.05,319.92 162.07,318.60 161.50,317.10 C160.93,315.60 160.87,313.68 160.80,312.30Z" fill="#3A2A29"/>
<path d="M161.5,317 Q164,315 170,314.5 Q178,313.5 188.4,312.3 Q188.8,316 188,318.5 Q186,317.2 184.3,317.1 Q182.5,316 180.8,315.7 Q178,315.2 176,315.4 Q174.5,315.8 173.5,316.8 Q173,319 172.9,321.3 Q172.2,324.6 171.5,325.4 Q169.5,326 168.4,325.4 Q165.5,324 164.2,321.3 Q162.2,319.5 161.5,317Z" fill="#2E211F"/>
<path d="M174.2,317.5 Q175.5,317 176.2,318.5 Q176,320.5 174.8,321 Q173.8,319.5 174.2,317.5Z" fill="#F0B59C"/>
<path d="M165.8,301.8 Q166.3,298.6 168.4,298 Q167.6,299.6 168.2,301Z M163,304.6 Q162.6,302.6 163.8,302 Q163.7,303.4 164.4,304.2Z" fill="#3A2A29"/>
<path d="M164.3,304.6 L165.3,305.6 M167.2,302.5 L167.8,303.8" stroke="#E0602C" stroke-width="0.6"/>
</svg>
</body></html>
